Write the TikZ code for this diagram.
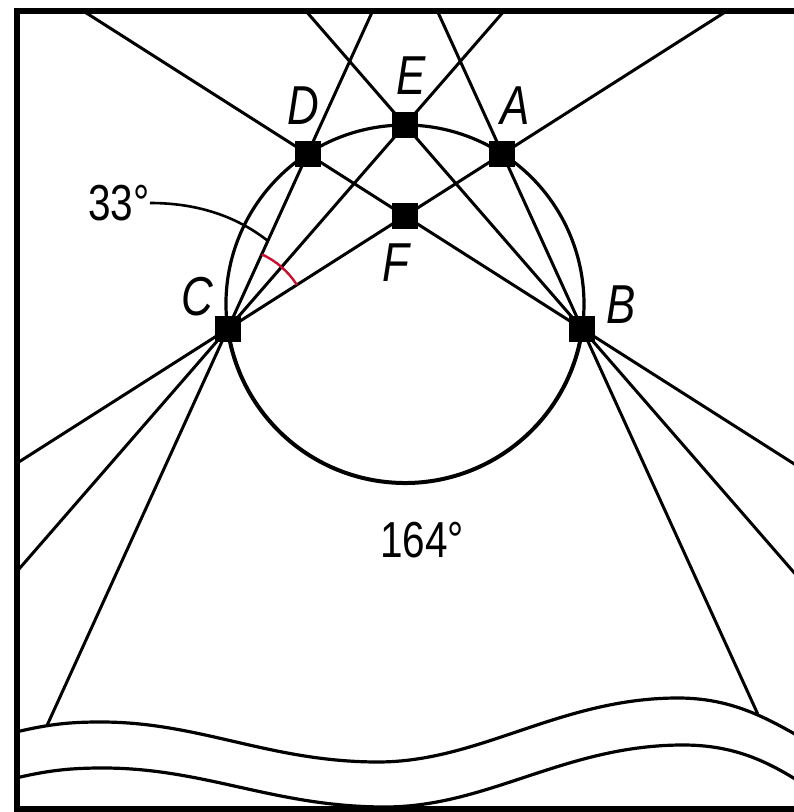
\documentclass[tikz,border=0pt]{standalone}
\usepackage{fontspec}
\setmainfont{Liberation Sans}[FakeStretch=0.8]
\usepackage{xcolor}
\usetikzlibrary{calc,backgrounds}
\definecolor{cInk}{HTML}{000000}
\definecolor{cRed}{HTML}{C8102E}
\tikzset{
  pnt/.style={rectangle,fill=cInk,draw=none,minimum size=0.65cm,inner sep=0pt},
  lbl/.style={font=\fontsize{39}{40}\selectfont\itshape,text=cInk,inner sep=0pt},
  num/.style={font=\fontsize{36}{38}\selectfont,text=cInk,inner sep=0pt},
  ln/.style={line width=0.075cm,color=cInk},
  rim/.style={line width=0.08cm,color=cInk},
  lowarc/.style={line width=0.1cm,color=cInk},
  wave/.style={line width=0.08cm,color=cInk},
  framebox/.style={line width=0.14cm,color=cInk},
  ang/.style={line width=0.06cm,color=cRed},
  lead/.style={line width=0.065cm,color=cInk},
}
\begin{document}
\begin{tikzpicture}[x=0.025cm,y=0.025cm]
  \useasboundingbox (0,0) rectangle (794,812);
  \coordinate (O) at (405,508);
  % points on the circle, F where the chords cross
  \node[pnt] (C) at ($(O)+(188:179)$) {};
  \node[pnt] (B) at ($(O)+(-8:179)$) {};
  \node[pnt] (D) at ($(O)+(123:179)$) {};
  \node[pnt] (A) at ($(O)+(57:179)$) {};
  \node[pnt] (E) at ($(O)+(90:179)$) {};
  \node[pnt] (F) at (intersection of C--A and B--D) {};
  \coordinate (wC) at ($(C)!-2.26!(D)$);
  \coordinate (wB) at ($(B)!-2.2!(A)$);
  \begin{scope}[on background layer]
    \draw[wave] (16,80) .. controls (50,88) and (70,90) .. (101,90)
      .. controls (200,90) and (270,50) .. (378,50)
      .. controls (480,50) and (560,114) .. (678,114)
      .. controls (730,114) and (765,95) .. (800,75);
    \draw[wave] (16,34) .. controls (50,42) and (72,44) .. (103,44)
      .. controls (205,44) and (275,5) .. (385,5)
      .. controls (488,5) and (565,67) .. (683,67)
      .. controls (735,67) and (768,50) .. (800,30);
    \draw[rim] (C.center) arc[start angle=188,end angle=-8,radius=179];
    \draw[lowarc] (B.center) arc[start angle=-8,end angle=-172,radius=179];
    \begin{scope}
      \clip (17,3) rectangle (800,801);
      \draw[ln] ($(B)!-3!(D)$) -- ($(B)!3!(D)$);
      \draw[ln] ($(C)!-3!(A)$) -- ($(C)!3!(A)$);
      \draw[ln] ($(C)!-3!(E)$) -- ($(C)!3!(E)$);
      \draw[ln] ($(B)!-3!(E)$) -- ($(B)!3!(E)$);
      \draw[ln] (wC) -- ($(C)!3!(D)$);
      \draw[ln] (wB) -- ($(B)!3!(A)$);
    \end{scope}
    \draw[ang] ($(C)+(32.5:82)$) arc[start angle=32.5,end angle=65.5,radius=82];
  \end{scope}
  \draw[framebox] (800,3) -- (17,3) -- (17,801) -- (800,801);
  % labels
  \node[lbl] (lD) at (303,706) {D};
  \node[lbl] (lE) at (411,736) {E};
  \node[lbl] (lA) at (515,706) {A};
  \node[lbl] (lC) at (197,515) {C};
  \node[lbl] (lB) at (621,507) {B};
  \node[lbl] (lF) at (396,549) {F};
  \node[num] (l164) at (422,272) {164°};
  \node[num,anchor=east] (l33) at (150,609) {33°};
  \coordinate (t33) at (268,571);
  \draw[lead] (l33.east) .. controls (195,609) and (235,597) .. (t33);
\end{tikzpicture}
\end{document}
